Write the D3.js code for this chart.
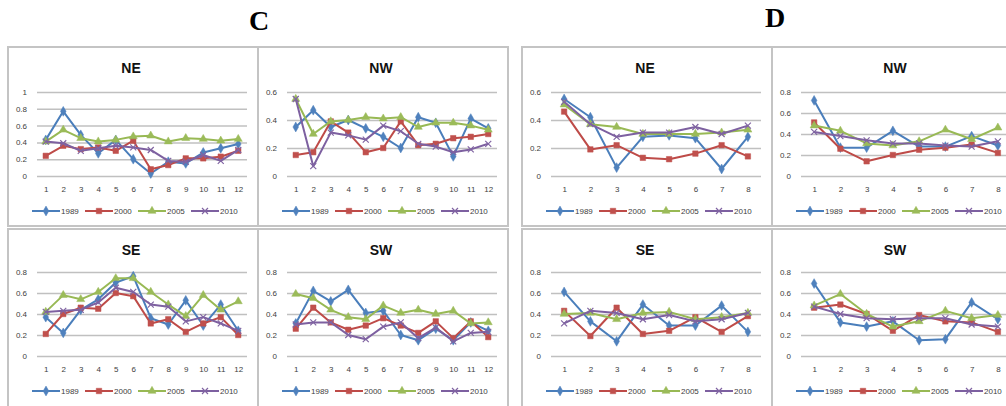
<!DOCTYPE html>
<html>
<head>
<meta charset="utf-8">
<script src="https://cdn.jsdelivr.net/npm/d3@7"></script>
<style>
body { margin: 0; background: #fff; }
text { font-family: "Liberation Sans", Arial, sans-serif; }
</style>
</head>
<body>
<script>

var years = ["1989", "2000", "2005", "2010"];
var months12 = [1, 2, 3, 4, 5, 6, 7, 8, 9, 10, 11, 12];
var months8 = [1, 2, 3, 4, 5, 6, 7, 8];

// C panels, one row per year (1989, 2000, 2005, 2010)
var cNE = [
    [0.43, 0.77, 0.49, 0.27, 0.43, 0.20, 0.03, 0.17, 0.15, 0.28, 0.33, 0.38],
    [0.24, 0.36, 0.32, 0.34, 0.30, 0.42, 0.08, 0.13, 0.21, 0.21, 0.23, 0.30],
    [0.41, 0.55, 0.45, 0.41, 0.43, 0.47, 0.48, 0.41, 0.45, 0.44, 0.42, 0.44],
    [0.41, 0.39, 0.30, 0.33, 0.36, 0.34, 0.31, 0.18, 0.17, 0.25, 0.18, 0.31]
];
var cNW = [
    [0.35, 0.47, 0.35, 0.40, 0.34, 0.28, 0.20, 0.42, 0.38, 0.14, 0.41, 0.34],
    [0.15, 0.17, 0.39, 0.31, 0.17, 0.20, 0.39, 0.22, 0.23, 0.27, 0.28, 0.30],
    [0.55, 0.30, 0.39, 0.40, 0.42, 0.41, 0.42, 0.35, 0.38, 0.38, 0.36, 0.33],
    [0.55, 0.07, 0.31, 0.29, 0.26, 0.36, 0.32, 0.23, 0.21, 0.17, 0.19, 0.23]
];
var cSE = [
    [0.37, 0.22, 0.44, 0.54, 0.70, 0.76, 0.36, 0.30, 0.53, 0.29, 0.49, 0.24],
    [0.21, 0.40, 0.46, 0.45, 0.60, 0.57, 0.31, 0.35, 0.23, 0.31, 0.37, 0.20],
    [0.42, 0.58, 0.54, 0.61, 0.74, 0.74, 0.61, 0.49, 0.38, 0.58, 0.44, 0.52],
    [0.42, 0.43, 0.44, 0.51, 0.65, 0.61, 0.49, 0.47, 0.33, 0.37, 0.31, 0.24]
];
var cSW = [
    [0.31, 0.62, 0.52, 0.63, 0.41, 0.43, 0.20, 0.15, 0.26, 0.15, 0.32, 0.24],
    [0.26, 0.46, 0.32, 0.25, 0.29, 0.36, 0.29, 0.22, 0.33, 0.17, 0.33, 0.18],
    [0.59, 0.55, 0.44, 0.37, 0.35, 0.48, 0.41, 0.44, 0.40, 0.43, 0.31, 0.32],
    [0.30, 0.32, 0.32, 0.20, 0.16, 0.28, 0.32, 0.17, 0.27, 0.14, 0.22, 0.23]
];

// D panels
var dNE = [
    [0.55, 0.42, 0.06, 0.28, 0.29, 0.27, 0.05, 0.28],
    [0.46, 0.19, 0.22, 0.13, 0.12, 0.16, 0.22, 0.14],
    [0.51, 0.37, 0.35, 0.30, 0.30, 0.30, 0.31, 0.33],
    [0.53, 0.37, 0.28, 0.31, 0.31, 0.35, 0.30, 0.36]
];
var dNW = [
    [0.72, 0.27, 0.27, 0.43, 0.28, 0.28, 0.38, 0.29],
    [0.51, 0.26, 0.14, 0.20, 0.25, 0.27, 0.30, 0.22],
    [0.48, 0.43, 0.31, 0.29, 0.33, 0.44, 0.35, 0.46],
    [0.42, 0.38, 0.34, 0.31, 0.31, 0.29, 0.28, 0.33]
];
var dSE = [
    [0.61, 0.33, 0.14, 0.49, 0.29, 0.29, 0.48, 0.23],
    [0.43, 0.19, 0.46, 0.21, 0.24, 0.37, 0.23, 0.38],
    [0.40, 0.41, 0.35, 0.41, 0.42, 0.35, 0.37, 0.41],
    [0.31, 0.43, 0.41, 0.35, 0.39, 0.33, 0.35, 0.41]
];
var dSW = [
    [0.69, 0.32, 0.28, 0.33, 0.15, 0.16, 0.51, 0.35],
    [0.46, 0.49, 0.40, 0.24, 0.39, 0.33, 0.32, 0.23],
    [0.48, 0.59, 0.40, 0.28, 0.33, 0.43, 0.36, 0.39],
    [0.47, 0.40, 0.36, 0.35, 0.36, 0.36, 0.30, 0.28]
];

var lineColors = ["#4a7ebb", "#be4b48", "#98b954", "#7d60a0"],
    markerColors = ["#4f81bd", "#c0504d", "#9bbb59", "#8064a2"],
    markers = [d3.symbolDiamond, d3.symbolSquare, d3.symbolTriangle, null];

var width = 1006,
    height = 406;

var panels = [
    { title: "NE", x: 8,   y: 47,  yMax: 1,   cats: months12, data: cNE },
    { title: "NW", x: 258, y: 47,  yMax: 0.6, cats: months12, data: cNW },
    { title: "SE", x: 8,   y: 229, yMax: 0.8, cats: months12, data: cSE },
    { title: "SW", x: 258, y: 229, yMax: 0.8, cats: months12, data: cSW },
    { title: "NE", x: 522, y: 47,  yMax: 0.6, cats: months8,  data: dNE },
    { title: "NW", x: 772, y: 47,  yMax: 0.8, cats: months8,  data: dNW },
    { title: "SE", x: 522, y: 229, yMax: 0.8, cats: months8,  data: dSE },
    { title: "SW", x: 772, y: 229, yMax: 0.8, cats: months8,  data: dSW }
];

var svg = d3.select("body")
    .append("svg")
    .attr("width", width)
    .attr("height", height);

// group letters
svg.append("text")
    .attr("x", 259).attr("y", 30)
    .attr("text-anchor", "middle")
    .style("font-family", "'Liberation Serif', 'Times New Roman', serif")
    .style("font-weight", "bold")
    .style("font-size", "28px")
    .text("C");

svg.append("text")
    .attr("x", 775).attr("y", 27)
    .attr("text-anchor", "middle")
    .style("font-family", "'Liberation Serif', 'Times New Roman', serif")
    .style("font-weight", "bold")
    .style("font-size", "28px")
    .text("D");

function drawMarker(g, i, cx, cy) {
    if (markers[i]) {
        g.append("path")
            .attr("transform", "translate(" + cx + "," + cy + ")")
            .attr("d", d3.symbol().type(markers[i]).size(i === 1 ? 30 : 28)())
            .attr("fill", markerColors[i])
            .attr("stroke", markerColors[i])
            .attr("stroke-width", 0.5);
    } else {
        // "x" marker
        var s = 3;
        g.append("path")
            .attr("d", "M" + (cx - s) + "," + (cy - s) + "L" + (cx + s) + "," + (cy + s) +
                       "M" + (cx - s) + "," + (cy + s) + "L" + (cx + s) + "," + (cy - s))
            .attr("stroke", markerColors[i])
            .attr("stroke-width", 1.2)
            .attr("fill", "none");
    }
}

panels.forEach(function(p) {
    var g = svg.append("g");
    var pw = 250,
        ph = p.y < 100 ? 179 : 180;

    g.append("rect")
        .attr("x", p.x).attr("y", p.y)
        .attr("width", pw).attr("height", ph)
        .attr("fill", "#fff")
        .attr("stroke", "#c4c4c4")
        .attr("stroke-width", 2);

    var plotLeft = p.x + 29,
        plotRight = plotLeft + 210,
        plotTop = p.y + (p.y < 100 ? 45 : 43),
        plotBottom = p.y + (p.y < 100 ? 129 : 127);

    var x = d3.scalePoint()
        .domain(p.cats)
        .range([plotLeft, plotRight])
        .padding(0.5);

    var y = d3.scaleLinear()
        .domain([0, p.yMax])
        .range([plotBottom, plotTop]);

    g.append("text")
        .attr("x", p.x + pw / 2 - 2)
        .attr("y", p.y + 26)
        .attr("text-anchor", "middle")
        .style("font-weight", "bold")
        .style("font-size", "14px")
        .attr("fill", "#111")
        .text(p.title);

    // gridlines + y labels
    var yAxis = d3.axisLeft(y)
        .tickValues(d3.range(0, p.yMax + 0.001, 0.2))
        .tickSize(-(plotRight - plotLeft))
        .tickPadding(10)
        .tickFormat(function(d) { return String(+d.toFixed(1)); });

    var ya = g.append("g")
        .attr("transform", "translate(" + plotLeft + ",0)")
        .call(yAxis);
    ya.select(".domain").remove();
    ya.selectAll("line").attr("stroke", "#c0c0c0").attr("stroke-width", 1.5);
    ya.selectAll("text").style("font-size", "8px").attr("fill", "#404040");

    // x labels
    var xAxis = d3.axisBottom(x).tickSize(0).tickPadding(10);
    var xa = g.append("g")
        .attr("transform", "translate(0," + plotBottom + ")")
        .call(xAxis);
    xa.select(".domain").remove();
    xa.selectAll("text").style("font-size", "8px").attr("fill", "#404040");

    var line = d3.line()
        .x(function(d, i) { return x(p.cats[i]); })
        .y(function(d) { return y(d); });

    p.data.forEach(function(series, si) {
        g.append("path")
            .datum(series)
            .attr("d", line)
            .attr("fill", "none")
            .attr("stroke", lineColors[si])
            .attr("stroke-width", 2)
            .attr("stroke-linejoin", "round");
        series.forEach(function(v, i) {
            drawMarker(g, si, x(p.cats[i]), y(v));
        });
    });

    // legend
    var ly = plotBottom + 35;
    years.forEach(function(yr, si) {
        var lx = p.x + 24 + si * 53;
        g.append("line")
            .attr("x1", lx).attr("x2", lx + 28)
            .attr("y1", ly).attr("y2", ly)
            .attr("stroke", lineColors[si])
            .attr("stroke-width", 2);
        drawMarker(g, si, lx + 14, ly);
        g.append("text")
            .attr("x", lx + 29)
            .attr("y", ly + 3)
            .style("font-size", "8px")
            .attr("fill", "#404040")
            .text(yr);
    });
});

</script>
</body>
</html>
